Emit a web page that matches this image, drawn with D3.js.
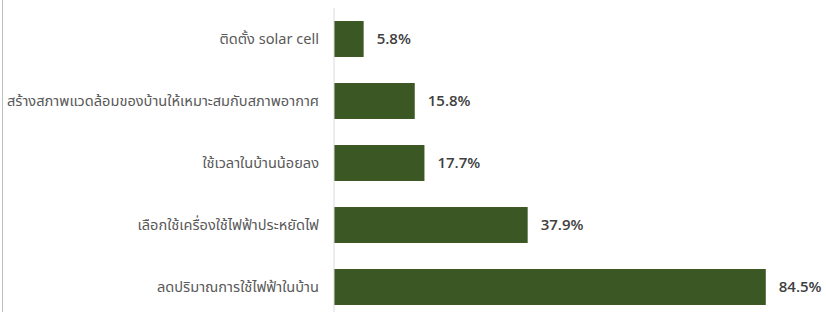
<!DOCTYPE html>
<html>
<head>
<meta charset="utf-8">
<script src="https://cdn.jsdelivr.net/npm/d3@7"></script>
<style>
  body { margin: 0; background: #fff; }
  svg { display: block; }
</style>
</head>
<body>
<div id="vis"></div>
<script>
// categories top to bottom, values in percent
const categories = [
  "ติดตั้ง solar cell",
  "สร้างสภาพแวดล้อมของบ้านให้เหมาะสมกับสภาพอากาศ",
  "ใช้เวลาในบ้านน้อยลง ",
  "เลือกใช้เครื่องใช้ไฟฟ้าประหยัดไฟ",
  "ลดปริมาณการใช้ไฟฟ้าในบ้าน"
];
const values = [5.8, 15.8, 17.7, 37.9, 84.5];

const width = 826, height = 312;
const margin = { top: 8, right: 0, bottom: 0, left: 334 };

const svg = d3.select("#vis").append("svg")
  .attr("width", width)
  .attr("height", height);

// left frame edge
svg.append("line")
  .attr("x1", 2.5).attr("x2", 2.5)
  .attr("y1", 0).attr("y2", height)
  .attr("stroke", "#bfbfbf");

const x = d3.scaleLinear()
  .domain([0, 100])
  .range([margin.left, margin.left + 511]);

const y = d3.scaleBand()
  .domain(categories)
  .range([8, 318])
  .paddingInner(0.42)
  .paddingOuter(0.21);

svg.append("g")
  .selectAll("rect")
  .data(values)
  .join("rect")
  .attr("x", x(0))
  .attr("y", (d, i) => y(categories[i]))
  .attr("width", d => x(d) - x(0))
  .attr("height", y.bandwidth())
  .attr("fill", "#3b5723");

// category axis
const yAxis = svg.append("g")
  .attr("transform", "translate(" + x(0) + ",0)")
  .call(d3.axisLeft(y).tickSize(0).tickPadding(15));
yAxis.select(".domain").remove();
yAxis.append("line")
  .attr("x1", 0).attr("x2", 0)
  .attr("y1", margin.top).attr("y2", height)
  .attr("stroke", "#d9d9d9");
yAxis.selectAll("text")
  .style("font-family", "'Noto Sans Thai', 'Noto Sans', 'DejaVu Sans', sans-serif")
  .style("font-size", "14.6px")
  .attr("fill", "#595959");

svg.append("g")
  .selectAll("text")
  .data(values)
  .join("text")
  .attr("x", d => x(d) + 13)
  .attr("y", (d, i) => y(categories[i]) + y.bandwidth() / 2)
  .attr("dy", "0.35em")
  .style("font-family", "'Open Sans', 'Noto Sans', sans-serif")
  .style("font-size", "15px")
  .style("font-weight", "600")
  .attr("fill", "#404040")
  .text(d => d.toFixed(1) + "%");
</script>
</body>
</html>
